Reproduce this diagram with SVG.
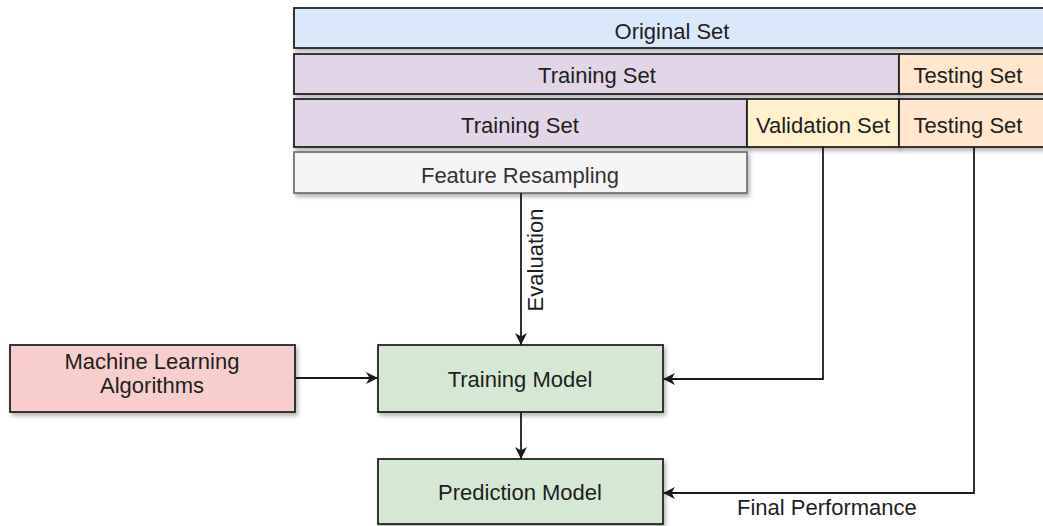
<svg xmlns="http://www.w3.org/2000/svg" width="1043" height="526" viewBox="0 0 1043 526">
<defs>
<filter id="sh" x="-5%" y="-10%" width="115%" height="140%">
<feDropShadow dx="2" dy="3" stdDeviation="2" flood-color="#000" flood-opacity="0.3"/>
</filter>
<marker id="arr" viewBox="0 0 12 12" refX="12" refY="6" markerWidth="12" markerHeight="12" markerUnits="userSpaceOnUse" orient="auto">
<path d="M0,0 L12,6 L0,12 L3.5,6 Z" fill="#1a1a1a"/>
</marker>
</defs>
<style>
.box{stroke:#222;stroke-width:1.8;filter:url(#sh)}
.t{font-family:"Liberation Sans",Arial,sans-serif;font-size:22px;fill:#1e1e1e;text-anchor:middle}
.ln{fill:none;stroke:#1a1a1a;stroke-width:1.8;marker-end:url(#arr)}
</style>
<rect width="1043" height="526" fill="#fff"/>
<g id="original-set">
<rect class="box" x="294" y="8" width="760" height="40" fill="#dae8fc"/>
<text class="t" x="672" y="39">Original Set</text>
</g>
<g id="training-set-1">
<rect class="box" x="294" y="54" width="605" height="40" fill="#e1d5e7"/>
<text class="t" x="597" y="83">Training Set</text>
</g>
<g id="testing-set-1">
<rect class="box" x="899" y="54" width="155" height="40" fill="#ffe6cc"/>
<text class="t" x="968" y="83">Testing Set</text>
</g>
<g id="training-set-2">
<rect class="box" x="294" y="99" width="453" height="48" fill="#e1d5e7"/>
<text class="t" x="520" y="133">Training Set</text>
</g>
<g id="validation-set">
<rect class="box" x="747" y="99" width="152" height="48" fill="#fff2cc"/>
<text class="t" x="823" y="133">Validation Set</text>
</g>
<g id="testing-set-2">
<rect class="box" x="899" y="99" width="155" height="48" fill="#ffe6cc"/>
<text class="t" x="968" y="133">Testing Set</text>
</g>
<g id="feature-resampling">
<rect x="294" y="152" width="453" height="41" fill="#f5f5f5" stroke="#666" stroke-width="1.6" filter="url(#sh)"/>
<text class="t" x="520" y="183" style="fill:#333">Feature Resampling</text>
</g>
<g id="ml-algorithms">
<rect class="box" x="10" y="345" width="285" height="67" fill="#f8cecc"/>
<text class="t" x="152" y="369">Machine Learning</text>
<text class="t" x="152" y="393">Algorithms</text>
</g>
<g id="training-model">
<rect class="box" x="378" y="345" width="285" height="67" fill="#d5e8d4"/>
<text class="t" x="520" y="387">Training Model</text>
</g>
<g id="prediction-model">
<rect class="box" x="378" y="459" width="285" height="65" fill="#d5e8d4"/>
<text class="t" x="520" y="500">Prediction Model</text>
</g>
<g id="connectors">
<path class="ln" d="M521,193 L521,345"/>
<text class="t" transform="translate(543,260) rotate(-90)">Evaluation</text>
<path class="ln" d="M295,378 L378,378"/>
<path class="ln" d="M521,412 L521,459"/>
<path class="ln" d="M823,147 L823,379 L663,379"/>
<path class="ln" d="M974,147 L974,493 L663,493"/>
<text class="t" x="737" y="515" style="text-anchor:start">Final Performance</text>
</g>
</svg>
